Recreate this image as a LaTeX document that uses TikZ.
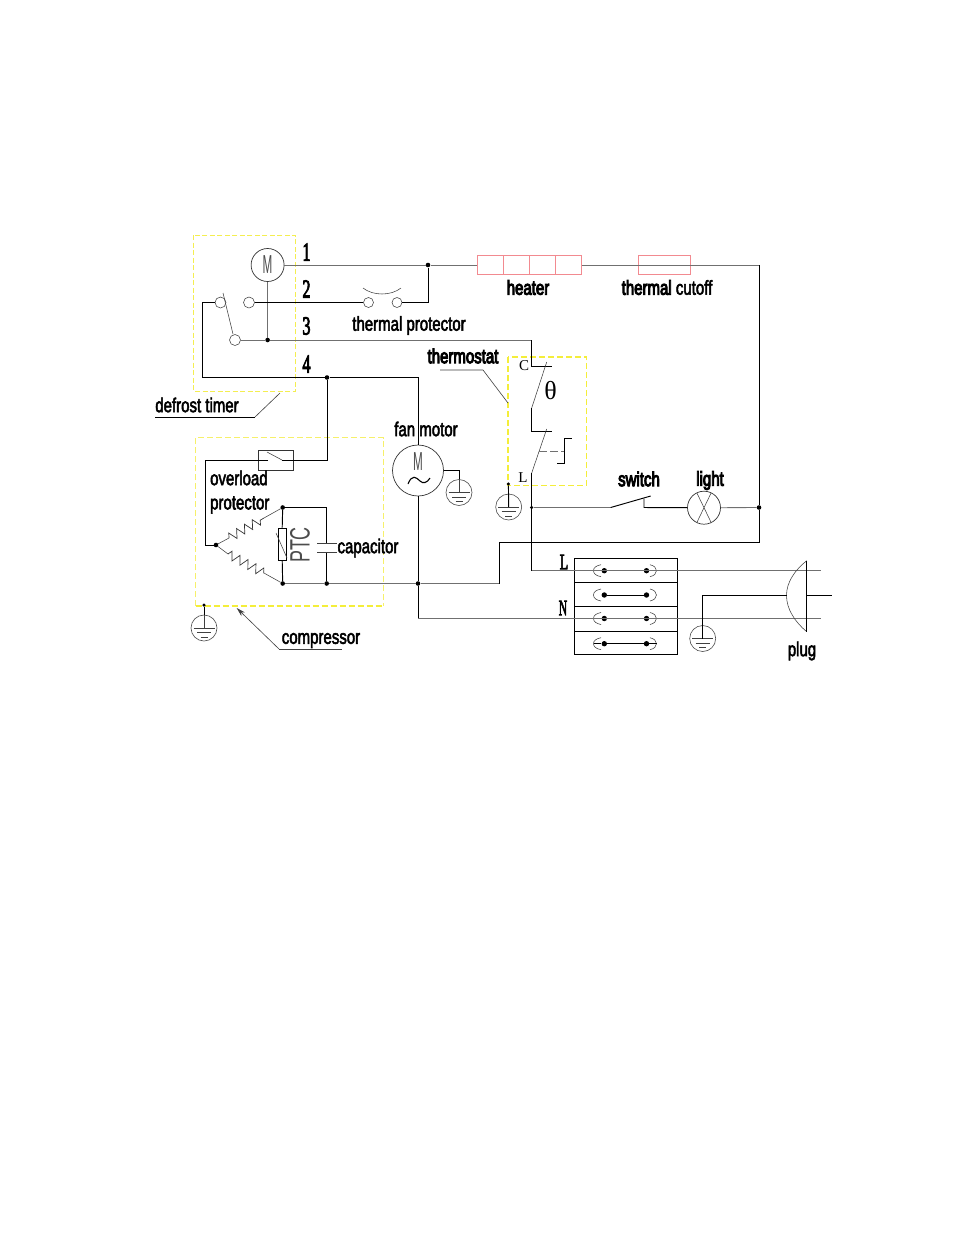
\documentclass[tikz,border=0pt]{standalone}
\usepackage{fontspec}
\usetikzlibrary{decorations.pathmorphing,calc,arrows.meta}
\setmainfont{Liberation Sans}
\newfontfamily\lab[FakeBold=5.5]{Liberation Sans}
\newfontfamily\labthin[FakeBold=3]{Liberation Sans}
\newfontfamily\num[FakeBold=4]{Liberation Serif}
\newfontfamily\srf{Liberation Serif}
\definecolor{yel}{HTML}{F4EE3A}
\definecolor{yelp}{HTML}{F6F06A}
\definecolor{timery}{HTML}{F4EE50}
\definecolor{pinkw}{HTML}{F28A90}
\definecolor{wg}{HTML}{707070}
\tikzset{
 wire/.style={line width=.95pt,black},
 wireg/.style={line width=.85pt,wg},
 thin line/.style={line width=.55pt,black!75},
 dot/.style={circle,fill=black,inner sep=0pt,minimum size=4.6pt},
 term/.style={circle,draw=black!75,line width=.55pt,inner sep=0pt,minimum size=11pt},
 gndc/.style={circle,draw=black!70,line width=.6pt,inner sep=0pt,minimum size=26pt},
 lbl/.style={font={\fontsize{20}{20}\lab},inner sep=0pt,xscale=.75},
 lblt/.style={font={\fontsize{20}{20}\labthin},inner sep=0pt,xscale=.75},
 nlbl/.style={font={\fontsize{26}{26}\num},inner sep=0pt,xscale=.62},
 sl/.style={font={\fontsize{15}{15}\srf},inner sep=0pt},
 cell/.style={draw=pinkw,line width=.8pt,inner sep=0pt,minimum height=19pt},
 blockrow/.style={draw=black,line width=.8pt,inner sep=0pt,minimum width=103pt},
 zig/.style={line width=.7pt,black!80,decorate,decoration={zigzag,amplitude=4.4pt,segment length=9pt}},
 leader/.style={line width=.6pt,black!75},
 mlabel/.style={font=\fontsize{26}{26}\selectfont,text=black!70,xscale=.45,inner sep=0pt},
}
\newcommand{\gnd}[3]{% name, x, y
 \node[gndc] (#1) at (#2,#3) {};
 \draw[thin line] ($(#1.center)+(-10.5,0)$) -- ($(#1.center)+(10.5,0)$);
 \draw[thin line] ($(#1.center)+(-7,4.5)$) -- ($(#1.center)+(7,4.5)$);
 \draw[thin line] ($(#1.center)+(-3.5,9)$) -- ($(#1.center)+(3.5,9)$);
}
\begin{document}
\begin{tikzpicture}[x=1pt,y=-1pt]
\useasboundingbox (0,0) rectangle (954,1235);
\fill[white] (0,0) rectangle (954,1235);
% dashed boxes
\draw[timery,line width=.8pt,dash pattern=on 5pt off 2.5pt] (193.5,235) rectangle (295.5,391);
\draw[yelp,line width=.8pt,dash pattern=on 6pt off 3pt] (195.5,606) -- (195.5,437.5) -- (383.3,437.5) -- (383.3,606);
\draw[yel,line width=1.1pt,dash pattern=on 6pt off 3pt] (195.5,606) -- (383.3,606);
\draw[yel,line width=1.1pt,dash pattern=on 6pt off 3pt] (508,357) rectangle (586.7,485.7);
% timer motor
\node[circle,draw=black!80,line width=.7pt,inner sep=0pt,minimum size=33pt] (mt) at (267.6,265) {};
\node[mlabel] (mtl) at (267.6,265) {M};
\node[term] (sw1) at (220.5,302.5) {};
\node[term] (sw2) at (249,302.5) {};
\node[term] (sw3) at (235,340) {};
\node[term,minimum size=10pt] (tp1) at (368.5,302.5) {};
\node[term,minimum size=10pt] (tp2) at (397,302.5) {};
\node[dot] (j1) at (428,265) {};
\node[dot] (j3) at (267.6,340) {};
\node[dot] (j4) at (327,377.5) {};
\coordinate (c3) at (531.7,340);
\coordinate (cC) at (531.7,366);
\coordinate (cCe) at (552,366);
% heater
\foreach \i/\x in {1/490.2,2/516.4,3/542.5,4/568.4}
  \node[cell,minimum width=26.1pt] (h\i) at (\x,265) {};
\node[cell,minimum width=52.4pt] (tc) at (664.5,265) {};
\coordinate (rt) at (759,265);
\node[dot] (jr) at (759,507.5) {};
\coordinate (rb) at (759,542.5);
\coordinate (lb) at (499,542.5);
\coordinate (lc) at (499,583.5);
% wires top
\draw[wireg] (mt.east) -- (j1) -- (h1.west);
\draw[wireg] (h4.east) -- (tc.west);
\draw[wireg] (tc.west) -- (rt);
\draw[wire] (rt) -- (jr) -- (rb) -- (lb) -- (lc);
\draw[wireg] (mt.south) -- (j3);
\draw[wire] (sw2) -- (tp1);
\draw[wire] (tp2) -| (j1);
\draw[wireg] (sw3) -- (j3) -- (c3);
\draw[wire] (c3) -- (cC) -- (cCe);
\draw[thin line] (223,293) -- (233,334);
\draw[wire] (sw1.west) -- (202.5,302.5) -- (202.5,377.5) -- (j4);
\coordinate (fant) at (418,377.5);
\node[circle,draw=black!80,line width=.7pt,inner sep=0pt,minimum size=51pt] (fan) at (418,470.5) {};
\node[mlabel] (fanm) at (418,462) {M};
\draw[black,line width=1.1pt] (408,484) .. controls (412,474) and (416,477) .. (420,481) .. controls (423,484) and (427,483) .. (430,478);
\draw[wire] (j4) -- (fant) -- (fan.north);
\gnd{gf}{459}{492.5}
\draw[wire] (fan.east) -| (gf.north);
\draw[thin line] (gf.north) -- (gf.center);
% thermal protector arc
\draw[thin line] (363,288) .. controls (373,296) and (391,296) .. (401,288);
% compressor
\node[draw=black!80,line width=.7pt,inner sep=0pt,minimum width=35pt,minimum height=20pt] (ol) at (275.5,460) {};
\coordinate (olsw) at (268,460);
\coordinate (ole) at (282,460);
\node[dot] (jl) at (216,545) {};
\node[dot] (jt) at (282.7,507.5) {};
\node[dot] (jb) at (282.7,583.5) {};
\node[dot] (jc) at (326.7,583.5) {};
\node[dot] (jf) at (418,583.5) {};
\draw[wire] (j4) |- (ole);
\draw[thin line] (ole) -- (267,452);
\draw[wire] (olsw) -- (205,460) -- (205,545) -- (jl);
\coordinate (r1a) at (229,538);
\coordinate (r1b) at (264,518);
\coordinate (r2a) at (228,554);
\coordinate (r2b) at (264,573);
\draw[thin line] (jl) -- (r1a) (r1b) -- (jt) (jl) -- (r2a) (r2b) -- (jb);
\draw[zig] (r1a) -- (r1b);
\draw[zig] (r2a) -- (r2b);
\node[draw=black,line width=.8pt,fill=white,inner sep=0pt,minimum width=8pt,minimum height=32pt] (ptc) at (282.2,544) {};
\draw[wire] (jt) -- (ptc.north) (ptc.south) -- (jb);
\draw[thin line] (276,533) -- (287,558);
\coordinate (capa) at (326.7,543);
\coordinate (capb) at (326.7,552);
\coordinate (capat) at (326.7,507.5);
\draw[wire] (jt) -- (capat) -- (capa);
\draw[wire] (capb) -- (jc);
\draw[thin line] (317,543) -- (337,543);
\draw[thin line] (317,552) -- (337,552);
\draw[wireg] (jb) -- (jc) -- (jf) -- (lc);
\draw[wire] (fan.south) -- (jf) -- (418,618);
\node[dot,minimum size=3.5pt] (jg1) at (204,605) {};
\gnd{g1}{204}{628}
\draw[wire] (jg1) -- (g1.north);
\draw[thin line] (g1.north) -- (g1.center);
% thermostat
\coordinate (arm1a) at (546.7,362);
\coordinate (arm1b) at (531.7,408);
\coordinate (c2a) at (531.7,431.7);
\coordinate (c2b) at (552,431.7);
\coordinate (arm2a) at (546.7,429);
\coordinate (arm2b) at (531.7,473);
\node[dot,minimum size=3.5pt] (jsw) at (531.7,507.5) {};
\coordinate (lw) at (531.7,570.5);
\draw[thin line] (arm1a) -- (arm1b);
\draw[wire] (arm1b) -- (c2a) -- (c2b);
\draw[thin line] (arm2a) -- (arm2b);
\draw[wire] (arm2b) -- (jsw) -- (lw);
\draw[wg,line width=.7pt,dash pattern=on 8pt off 3pt] (539,451.7) -- (564,451.7);
\draw[wire] (557,463) -- (564,463) -- (564,438) -- (572,438);
\node[dot,minimum size=3.5pt] (jg2) at (508.4,484) {};
\gnd{g2}{508.7}{507}
\draw[wire] (jg2) -- (g2.center);
% switch and light
\coordinate (s1) at (610.7,507.5);
\coordinate (s2) at (650.7,496);
\coordinate (s3) at (644,498.7);
\coordinate (s4) at (644,507.5);
\node[circle,draw=black!80,line width=.7pt,inner sep=0pt,minimum size=33pt] (lamp) at (704,507.7) {};
\draw[wireg] (jsw) -- (s1);
\draw[wire] (s1) -- (s2);
\draw[wire] (s3) -- (s4) -- (lamp.west);
\draw[wireg] (lamp.east) -- (jr);
\draw[thin line] ($(lamp.center)+(-7,-14.5)$) -- ($(lamp.center)+(7,14.5)$) ($(lamp.center)+(7,-14.5)$) -- ($(lamp.center)+(-7,14.5)$);
% terminal block
\node[blockrow,minimum height=24pt] (b1) at (625.8,570.3) {};
\node[blockrow,minimum height=24pt] (b2) at (625.8,594.3) {};
\node[blockrow,minimum height=25pt] (b3) at (625.8,618.8) {};
\node[blockrow,minimum height=23pt] (b4) at (625.8,642.8) {};
\foreach \r/\y in {1/570.7,2/595,3/618.5,4/643.7}{
  \node[dot,minimum size=5.4pt] (bl\r) at (604.3,\y) {};
  \node[dot,minimum size=5.4pt] (br\r) at (646.5,\y) {};
  \draw[thin line] (601,\y-6) .. controls (596,\y-5) and (593.5,\y-3) .. (593.5,\y);
  \draw[thin line] (593.5,\y) .. controls (593.5,\y+3) and (596,\y+5) .. (601,\y+6);
  \draw[thin line] (650,\y-6) .. controls (654,\y-5) and (656.5,\y-3) .. (656.5,\y);
  \draw[thin line] (656.5,\y) .. controls (656.5,\y+3) and (654,\y+5) .. (650,\y+6);
}
\draw[wire] (bl2) -- (br2);
\draw[wire] (593.5,643.7) -- (bl4) -- (br4) -- (656.5,643.7);
% plug
\coordinate (pt) at (806.7,560.7);
\coordinate (pb) at (806.7,631.7);
\coordinate (pm) at (806.7,595.5);
\coordinate (pe) at (831.7,595.5);
\coordinate (lend) at (821,570.5);
\coordinate (nend) at (821,618);
\coordinate (nst) at (418,618);
\draw[wireg] (lw) -- (lend);
\draw[wireg] (nst) -- (nend);
\draw[thin line] (pt) .. controls (795,570) and (786.5,582) .. (786.5,595.5) .. controls (786.5,609) and (795,622) .. (pb);
\draw[wire] (pt) -- (pb);
\draw[wire] (pm) -- (pe);
\coordinate (pl) at (786.5,595.5);
\gnd{g3}{702.7}{638.5}
\draw[wire] (pl) -| (g3.center);
% leaders
\draw[leader] (280,393) -- (255,417);
\draw[wire,line width=.7pt] (255,417) -- (155,417);
\draw[leader] (440,370) -- (483,370) -- (508,403);
\draw[leader,{Stealth[length=9pt,width=5pt]}-] (236.7,608) -- (279,649);
\draw[leader] (279,649) -- (342,649);
% labels
\node[nlbl] (n1) at (306.5,252) {1};
\node[nlbl] (n2) at (306.5,289) {2};
\node[nlbl] (n3) at (306.5,326) {3};
\node[nlbl] (n4) at (306.5,364) {4};
\node[lbl] (lh) at (528,287.5) {heater};
\node[lblt] (ltc) at (667,287.5) {{\lab thermal} cutoff};
\node[lblt] (ltp) at (409,325.5) {thermal protector};
\node[lbl] (lts) at (463,356) {thermostat};
\node[lblt] (ldt) at (197,405) {defrost timer};
\node[lblt] (lfm) at (426,429) {fan motor};
\node[lblt,anchor=west] (lo1) at (210,478) {overload};
\node[lblt,anchor=west] (lo2) at (210,505) {protector};
\node[lblt] (lcap) at (368,548) {capacitor};
\node[lblt] (lcom) at (321,640.5) {compressor};
\node[lbl] (lsw) at (639,479) {switch};
\node[lbl] (lli) at (710,480.5) {light};
\node[lblt] (lpl) at (802,651) {plug};
\node[font=\fontsize{28}{28}\selectfont,text=black!70,rotate=90,inner sep=0pt] (lptc) at (300,545) {\scalebox{.64}[1]{PTC}};
\node[font=\fontsize{26}{26}\srf,inner sep=0pt] (lth) at (550.7,391) {θ};
\node[sl] (lC) at (524,365.5) {C};
\node[sl] (lL) at (523,478) {L};
\node[nlbl,font=\fontsize{22}{22}\num] (lL2) at (564,562) {L};
\node[nlbl,font=\fontsize{22}{22}\num,xscale=.85] (lN) at (563,608) {N};
\end{tikzpicture}
\end{document}
